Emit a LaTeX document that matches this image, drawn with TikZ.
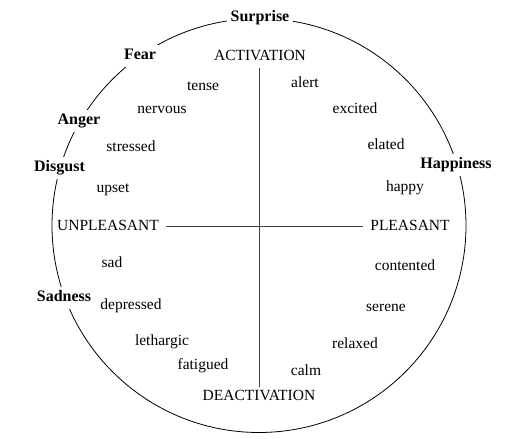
\documentclass[tikz,border=0pt]{standalone}
\usepackage{fontspec}
\setmainfont{Liberation Serif}
\begin{document}
\begin{tikzpicture}[x=1pt,y=-1pt,
  word/.style={font=\fontsize{15.5}{18}\selectfont, text height=10.5pt, text depth=3pt, inner sep=0pt, yshift=-1.5pt},
  emo/.style={font=\fontsize{16}{19}\selectfont\bfseries, text height=11pt, text depth=3.5pt, inner sep=4pt, fill=white, yshift=-1pt},
  axis/.style={word, inner sep=3pt},
  axline/.style={draw=black!75, line width=0.6pt}]
\useasboundingbox (0,0) rectangle (506,439);
\draw[line width=0.8pt] (259,225.5) circle[radius=207];
% emotions on the circle
\node[emo] (surprise) at (260,17) {Surprise};
\node[emo] (fear) at (140,55) {Fear};
\node[emo] (anger) at (79,120) {Anger};
\node[emo] (disgust) at (59.5,167) {Disgust};
\node[emo] (happiness) at (456,164) {Happiness};
\node[emo] (sadness) at (64,297) {Sadness};
% axes
\node[axis] (act) at (260,55) {ACTIVATION};
\node[axis] (deact) at (259,395) {DEACTIVATION};
\node[axis] (unpl) at (108,225) {UNPLEASANT};
\node[axis] (pl) at (410,225) {PLEASANT};
\draw[axline] (259,0 |- act.south) ++(0,2) coordinate (vt) -- (259,0 |- deact.north) coordinate (vb);
\draw[axline, shorten <=4pt, shorten >=4pt] (unpl.east) -- (pl.west);
% words
\node[word] (tense) at (203,85) {tense};
\node[word] (nervous) at (162,108) {nervous};
\node[word] (stressed) at (131,146) {stressed};
\node[word] (upset) at (113,187) {upset};
\node[word] (alert) at (305,82) {alert};
\node[word] (excited) at (355,108) {excited};
\node[word] (elated) at (386,144) {elated};
\node[word] (happy) at (405,186) {happy};
\node[word] (sad) at (112,262) {sad};
\node[word] (depressed) at (131,304) {depressed};
\node[word] (lethargic) at (162,340) {lethargic};
\node[word] (fatigued) at (203,364) {fatigued};
\node[word] (contented) at (405,265) {contented};
\node[word] (serene) at (386,306) {serene};
\node[word] (relaxed) at (355,343) {relaxed};
\node[word] (calm) at (306,370) {calm};
\end{tikzpicture}
\end{document}
